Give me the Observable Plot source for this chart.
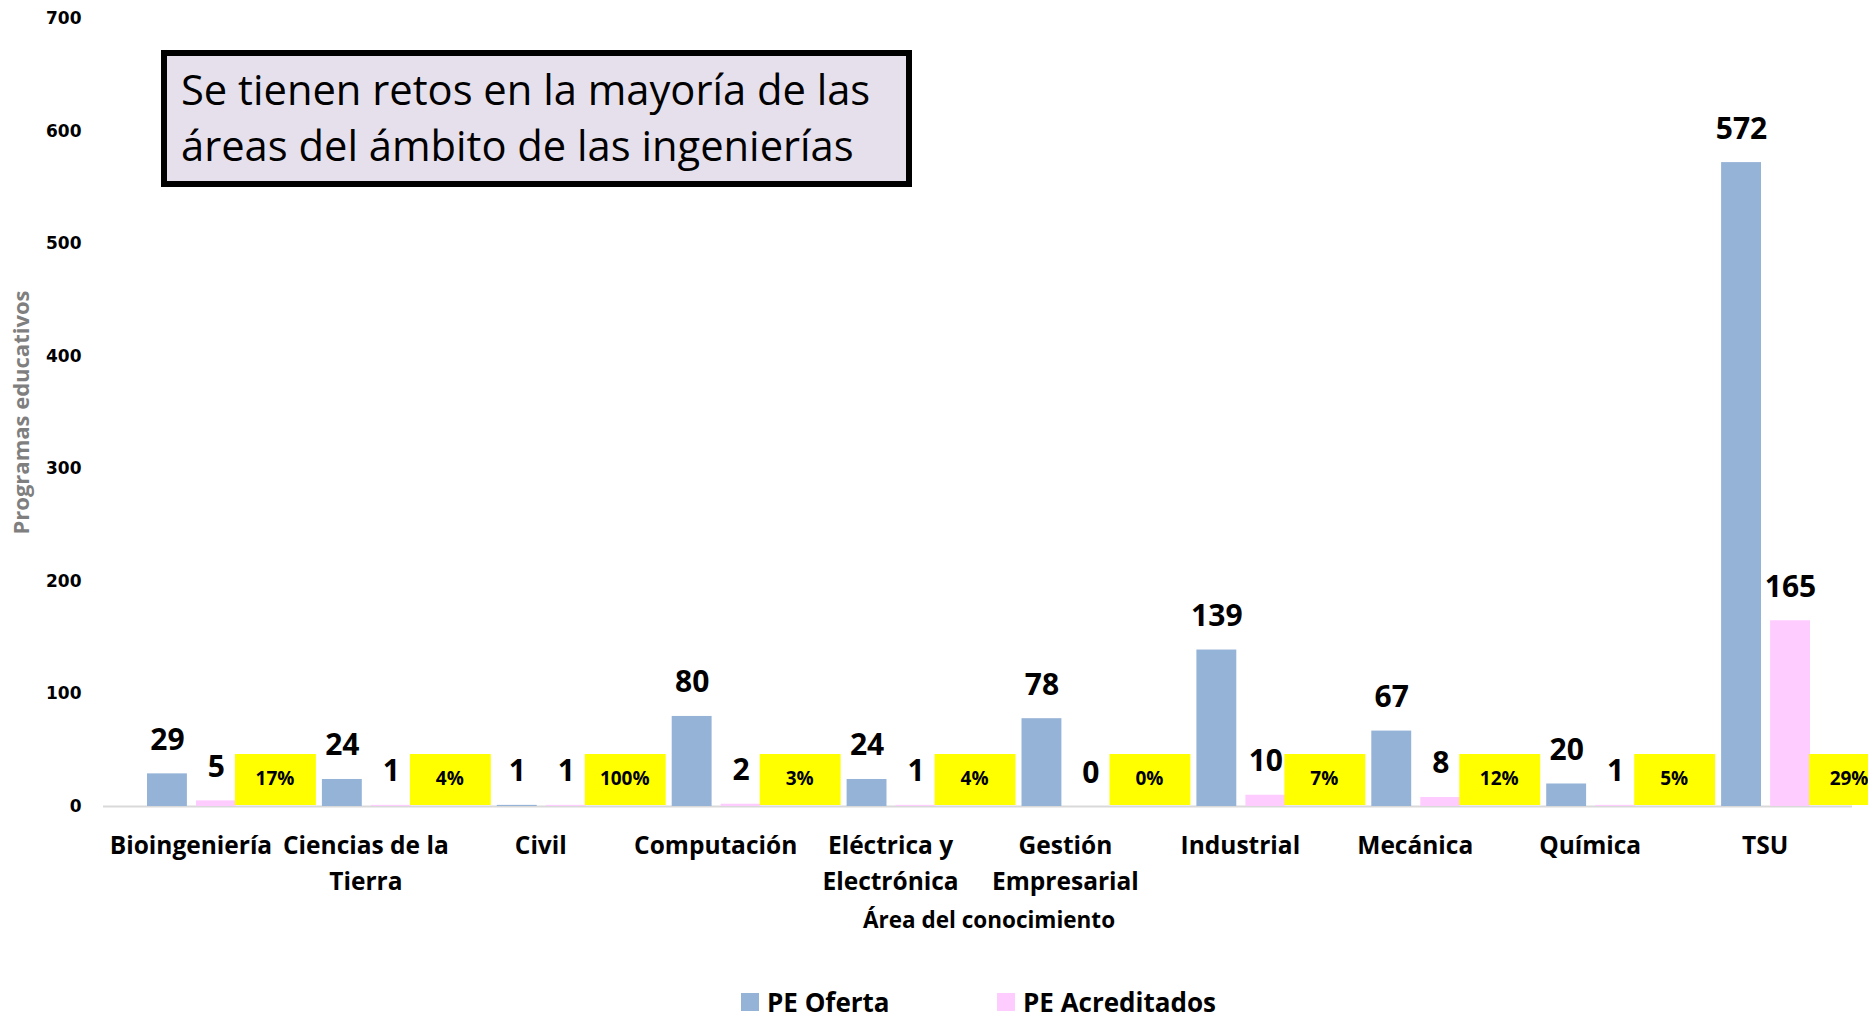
<!DOCTYPE html>
<html>
<head>
<meta charset="utf-8">
<script src="https://cdn.jsdelivr.net/npm/d3@7"></script>
<script src="https://cdn.jsdelivr.net/npm/@observablehq/plot@0.6"></script>
<style>
  html, body { margin: 0; padding: 0; background: #fff; overflow: hidden; width: 1868px; height: 1018px; }
  #wrap { position: relative; width: 1868px; height: 1018px; }
  #titlebox {
    position: absolute; left: 161px; top: 50px; width: 751px; height: 137px;
    box-sizing: border-box; border: 6px solid #000; background: #E6E0EC;
    font-family: "Open Sans", sans-serif; font-size: 41.7px; line-height: 56px;
    padding: 5px 0 0 14px; color: #000; white-space: nowrap;
  }
  #legend {
    position: absolute; left: 741px; top: 986px; display: flex; align-items: center;
    font-family: "Open Sans", sans-serif; font-weight: bold; font-size: 26px; line-height: 32px; color: #000;
  }
  .item { display: flex; align-items: center; }
  .item:first-child { width: 256px; }
  .sw { width: 18px; height: 18px; margin-right: 8px; display: inline-block; }
</style>
</head>
<body>
<div id="wrap">
  <div id="chart"></div>
  <div id="titlebox">Se tienen retos en la mayoría de las<br>áreas del ámbito de las ingenierías</div>
  <div id="legend"></div>
</div>
<script>
const categories = ["Bioingeniería", "Ciencias de la Tierra", "Civil", "Computación", "Eléctrica y Electrónica", "Gestión Empresarial", "Industrial", "Mecánica", "Química", "TSU"];
const categoryLabels = ["Bioingeniería", "Ciencias de la\nTierra", "Civil", "Computación", "Eléctrica y\nElectrónica", "Gestión\nEmpresarial", "Industrial", "Mecánica", "Química", "TSU"];
const oferta = [29, 24, 1, 80, 24, 78, 139, 67, 20, 572];
const acreditados = [5, 1, 1, 2, 1, 0, 10, 8, 1, 165];
const porcentaje = ["17%", "4%", "100%", "3%", "4%", "0%", "7%", "12%", "5%", "29%"];
const yTicks = [0, 100, 200, 300, 400, 500, 600, 700];
const seriesNames = ["PE Oferta", "PE Acreditados"];
const seriesColors = ["#95B3D7", "#FFCCFF"];
const yTitle = "Programas educativos";
const xTitle = "Área del conocimiento";

const data = categories.map((c, i) => ({
  category: c, label: categoryLabels[i], oferta: oferta[i], acreditados: acreditados[i], pct: porcentaje[i]
}));

const font = "'Open Sans', sans-serif";

const chart = Plot.plot({
  width: 1868,
  height: 960,
  marginLeft: 103,
  marginRight: 16,
  marginTop: 18,
  marginBottom: 154,
  style: { fontFamily: font, background: "white", overflow: "visible" },
  x: { domain: categories, padding: 0, round: false, label: null },
  y: { domain: [0, 700], label: null },
  marks: [
    Plot.ruleY([0], { stroke: "#D9D9D9", strokeWidth: 2 }),
    Plot.barY(data, { x: "category", y: "oferta", fill: seriesColors[0], insetLeft: 44, insetRight: 91 }),
    Plot.barY(data, { x: "category", y: "acreditados", fill: seriesColors[1], insetLeft: 93, insetRight: 42 }),
    Plot.barY(data, { x: "category", y1: 0, y2: 0, fill: "#FFFF00", insetLeft: 132, insetRight: -38, insetTop: -52, insetBottom: 1 }),
    Plot.text(data, { x: "category", y: 0, text: "pct", dx: 84, dy: -28, lineAnchor: "middle", fontSize: 19, fontWeight: "bold", fill: "#000" }),
    Plot.text(data, { x: "category", y: "oferta", text: d => String(d.oferta), dx: -23.5, dy: -24, lineAnchor: "bottom", fontSize: 30, fontWeight: "bold", fill: "#000" }),
    Plot.text(data, { x: "category", y: "acreditados", text: d => String(d.acreditados), dx: 25.5, dy: -24, lineAnchor: "bottom", fontSize: 30, fontWeight: "bold", fill: "#000" }),
    Plot.axisX({ tickSize: 0, tickPadding: 21, tickFormat: d => categoryLabels[categories.indexOf(d)], fontSize: 24.5, fontWeight: "bold", lineHeight: 1.5, label: null, fill: "#000" }),
    Plot.axisY({ ticks: yTicks, tickSize: 0, tickPadding: 22, fontFamily: "DejaVu Sans", fontSize: 17, fontWeight: "bold", label: null, fill: "#000" }),
    Plot.text([yTitle], { frameAnchor: "left", textAnchor: "middle", rotate: -90, dx: -82, text: d => d, fill: "#7F7F7F", fontSize: 22, fontWeight: "bold" }),
    Plot.text([xTitle], { frameAnchor: "bottom", dx: 11, dy: 121, text: d => d, fill: "#000", fontSize: 22.5, fontWeight: "bold" })
  ]
});
document.getElementById("chart").appendChild(chart);

const legend = document.getElementById("legend");
seriesNames.forEach((name, i) => {
  const item = document.createElement("div");
  item.className = "item";
  const sw = document.createElement("span");
  sw.className = "sw";
  sw.style.background = seriesColors[i];
  const t = document.createElement("span");
  t.textContent = name;
  item.appendChild(sw);
  item.appendChild(t);
  legend.appendChild(item);
});
</script>
</body>
</html>
